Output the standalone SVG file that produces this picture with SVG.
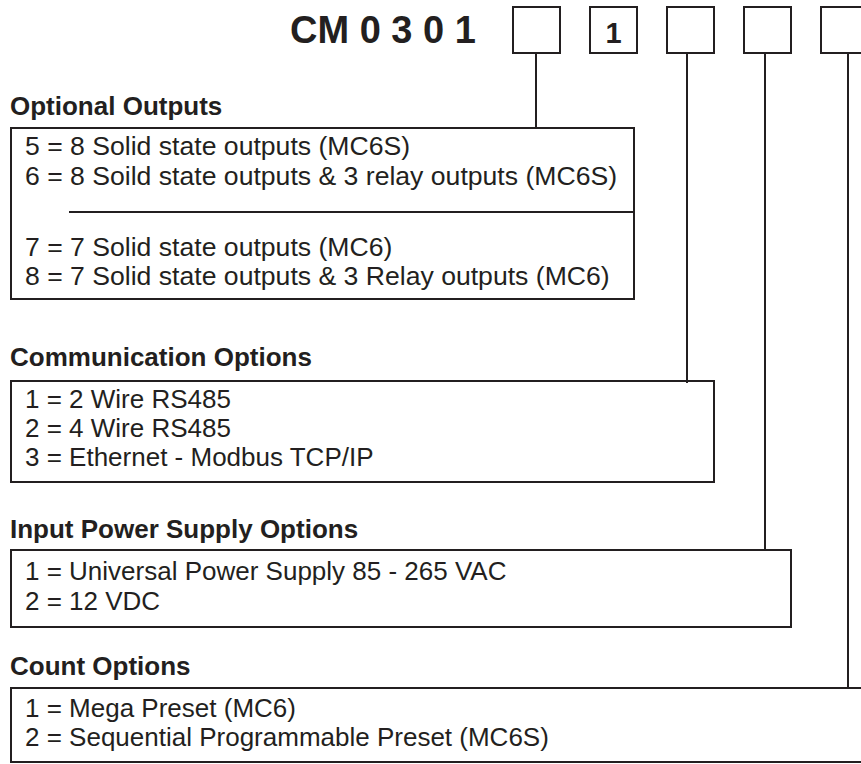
<svg xmlns="http://www.w3.org/2000/svg" width="861" height="764" viewBox="0 0 861 764">
<style>
.box{fill:none;stroke:#231f20;stroke-width:2}
.ln{stroke:#231f20;stroke-width:2;fill:none}
.t{font-family:"Liberation Sans",Arial,sans-serif;font-size:26px;fill:#231f20}
.o{font-size:26.6px}
.h{font-family:"Liberation Sans",Arial,sans-serif;font-size:26px;font-weight:bold;fill:#231f20}
.title{font-family:"Liberation Sans",Arial,sans-serif;font-size:38px;font-weight:bold;fill:#231f20}
</style>
<rect width="861" height="764" fill="#fff"/>
<g id="title">
<text class="title" x="290" y="43">CM 0 3 0 1</text>
</g>
<g id="code-boxes">
<rect class="box" x="513" y="7" width="47" height="46"/>
<rect class="box" x="590" y="7" width="47" height="46"/>
<text x="613.5" y="43" text-anchor="middle" style="font-family:'Liberation Sans',Arial,sans-serif;font-size:29px;font-weight:bold;fill:#231f20">1</text>
<rect class="box" x="667" y="7" width="47" height="46"/>
<rect class="box" x="744" y="7" width="47" height="46"/>
<rect class="box" x="821" y="7" width="47" height="46"/>
</g>
<g id="connectors">
<line class="ln" x1="536" y1="53" x2="536" y2="128"/>
<line class="ln" x1="687" y1="53" x2="687" y2="383"/>
<line class="ln" x1="765" y1="53" x2="765" y2="550"/>
<line class="ln" x1="848" y1="53" x2="848" y2="688"/>
</g>
<g id="optional-outputs">
<text class="h" x="10" y="115">Optional Outputs</text>
<rect class="box" x="11" y="128" width="623" height="171"/>
<text class="t o" x="25" y="155">5 = 8 Solid state outputs (MC6S)</text>
<text class="t o" x="25" y="185">6 = 8 Soild state outputs &amp; 3 relay outputs (MC6S)</text>
<line class="ln" x1="69" y1="212" x2="634" y2="212"/>
<text class="t o" x="25" y="256">7 = 7 Solid state outputs (MC6)</text>
<text class="t o" x="25" y="285">8 = 7 Solid state outputs &amp; 3 Relay outputs (MC6)</text>
</g>
<g id="communication-options">
<text class="h" x="10" y="366">Communication Options</text>
<rect class="box" x="11" y="381" width="703" height="101"/>
<text class="t" x="25" y="408">1 = 2 Wire RS485</text>
<text class="t" x="25" y="437">2 = 4 Wire RS485</text>
<text class="t" x="25" y="466">3 = Ethernet - Modbus TCP/IP</text>
</g>
<g id="input-power-supply-options">
<text class="h" x="10" y="538">Input Power Supply Options</text>
<rect class="box" x="11" y="550" width="780" height="77"/>
<text class="t" x="25" y="580">1 = Universal Power Supply 85 - 265 VAC</text>
<text class="t" x="25" y="610">2 = 12 VDC</text>
</g>
<g id="count-options">
<text class="h" x="10" y="675">Count Options</text>
<rect class="box" x="11" y="688" width="860" height="74"/>
<text class="t" x="25" y="717">1 = Mega Preset (MC6)</text>
<text class="t" x="25" y="746">2 = Sequential Programmable Preset (MC6S)</text>
</g>
</svg>
